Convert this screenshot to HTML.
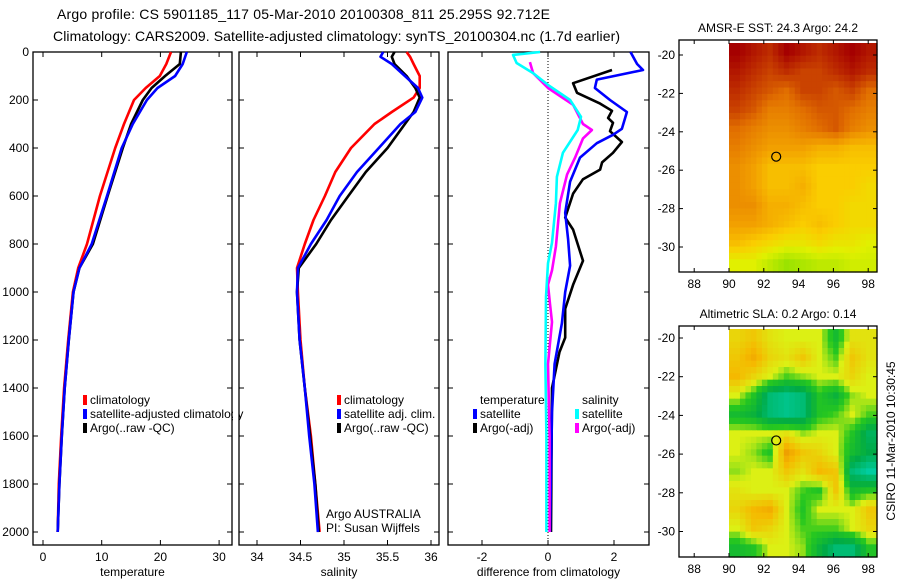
<!DOCTYPE html>
<html><head><meta charset="utf-8"><style>
body{margin:0;background:#fff}
svg{display:block;font-family:"Liberation Sans",sans-serif}
</style></head><body>
<svg id="c" width="900" height="580" viewBox="0 0 900 580"></svg>
<script>
// ---------- data ----------
const tDepth=[0,50,100,150,200,300,400,600,800,900,1000,1200,1400,1600,1800,2000];
const tClim=[21.8,21,19.9,17.5,15.5,13.8,12.3,9.7,7.5,6,5.1,4.3,3.6,3.1,2.7,2.5];
const tSat=[24.5,23.8,22.5,19.5,17.7,15.3,13.4,10.9,8.3,6.2,5.2,4.4,3.7,3.2,2.8,2.5];
const tArgo=[23.5,23.3,20.8,18.5,17,15,13.6,11,8.5,6.2,5.2,4.4,3.7,3.2,2.8,2.5];
const sDepth=[0,20,50,100,150,190,250,300,400,500,600,700,800,900,1000,1200,1400,1600,1800,2000];
const sClim=[35.72,35.76,35.8,35.87,35.87,35.8,35.55,35.35,35.08,34.9,34.78,34.65,34.55,34.46,34.47,34.5,34.55,34.62,34.67,34.72];
const sSat=[35.45,35.42,35.55,35.7,35.85,35.9,35.82,35.65,35.4,35.15,34.95,34.8,34.62,34.47,34.46,34.49,34.55,34.6,34.66,34.7];
const sArgo=[35.58,35.55,35.58,35.72,35.82,35.87,35.8,35.7,35.5,35.25,35.05,34.85,34.68,34.48,34.46,34.49,34.55,34.61,34.67,34.71];
const dSatSD=[0,12,46,88,137,200,270,325,420,520,630,795,880,1020,1300,1600,2000];
const dSatS=[-0.24,-1.06,-0.95,-0.45,0,0.67,1.0,0.9,0.45,0.27,0.24,0.12,0,-0.06,-0.08,-0.05,-0.05];
const dArgoSD=[42,88,150,220,300,325,360,440,510,630,810,910,970,1050,1125,1300,1600,2000];
const dArgoS=[-0.55,-0.45,0,0.76,1.06,1.33,1.06,0.82,0.58,0.36,0.24,0.12,0,0.06,0.12,0,0.05,0.05];
const dSatTD=[0,50,75,115,150,200,250,320,345,380,440,540,670,780,890,1000,1130,1300,1500,2000];
const dSatT=[2.5,2.7,2.88,1.48,1.42,1.88,2.39,2.24,1.97,1.48,0.97,0.67,0.52,0.61,0.67,0.52,0.42,0.2,0.12,0.06];
const dArgoTD=[75,130,170,215,245,275,295,330,375,420,460,490,530,590,690,740,870,970,1070,1190,1250,1400,2000];
const dArgoT=[1.94,0.76,0.88,1.58,1.94,1.82,1.97,1.88,2.24,1.97,1.64,1.58,1.06,0.76,0.52,0.76,1.06,0.76,0.52,0.52,0.35,0.12,0.09];
const sstGrid=[
[1,0.95,0.9,1,0.95,0.9,0.95,1,0.95],
[0.95,0.9,0.85,0.9,0.85,0.85,0.9,0.95,0.9],
[0.9,0.85,0.8,0.75,0.85,0.85,0.8,0.85,0.75],
[0.85,0.8,0.7,0.7,0.75,0.8,0.8,0.75,0.7],
[0.75,0.7,0.65,0.65,0.7,0.75,0.8,0.7,0.65],
[0.7,0.65,0.6,0.6,0.6,0.55,0.55,0.5,0.5],
[0.65,0.6,0.5,0.5,0.5,0.45,0.45,0.45,0.45],
[0.65,0.6,0.5,0.5,0.55,0.45,0.45,0.45,0.4],
[0.65,0.65,0.55,0.55,0.5,0.45,0.45,0.4,0.4],
[0.6,0.6,0.55,0.5,0.45,0.5,0.45,0.4,0.4],
[0.5,0.45,0.4,0.35,0.35,0.4,0.35,0.35,0.3],
[0.3,0.3,0.2,0.1,0.15,0.2,0.2,0.25,0.25]];
const slaGrid=[
[0.2,0.3,0.1,0,0,0,-0.4,0.1,0.1],
[0.3,0.5,0.2,0.1,0.3,0,-0.2,0.3,0.1],
[0.4,0.2,0,-0.2,-0.1,0,0,0.2,0],
[0,-0.3,-0.8,-0.9,-0.8,-0.3,-0.5,-0.1,0],
[-0.4,-0.5,-0.8,-0.9,-0.8,-0.3,-0.2,0,-0.2],
[0,0,0,0.1,-0.1,0,0,-0.3,-0.7],
[0,-0.1,-0.3,0.6,0.3,0.2,0,-0.4,-0.6],
[-0.1,0,0,0.3,0.1,0.4,0.3,-0.8,-1],
[0.1,0,0,0,-0.2,-0.3,0.3,-0.4,-0.3],
[0.2,0.4,0.5,0,-0.3,0,0,0,0.3],
[0,0.3,0.2,0,-0.2,-0.2,-0.2,0,0.2],
[-0.4,-0.3,0,0,-0.1,-0.5,-0.8,-0.8,-0.3]];
const depthTicks=[0,200,400,600,800,1000,1200,1400,1600,1800,2000];
const tTicks=[0,10,20,30];
const sTicks=[34,34.5,35,35.5,36];
const dTicks=[-2,0,2];
const lonTicks=[88,90,92,94,96,98];
const latTicks=[-20,-22,-24,-26,-28,-30];

// ---------- helpers ----------
const NS="http://www.w3.org/2000/svg";
const svg=document.getElementById('c');
function mk(tag,at,parent){const e=document.createElementNS(NS,tag);for(const k in at)e.setAttribute(k,at[k]);(parent||svg).appendChild(e);return e;}
function txt(s,x,y,at){const e=mk('text',Object.assign({x:x,y:y,'font-size':12,fill:'#000'},at||{}));e.textContent=s;return e;}
const yD=d=>52+d*0.24;
const xT=v=>43+v*5.87;
const xS=v=>257+(v-34)*87;
const xDf=v=>548+v*33;

function frame(x0,x1,y0,y1,name){const r=mk('rect',{x:x0,y:y0,width:x1-x0,height:y1-y0,fill:'none',stroke:'#000','stroke-width':1.3});}
function line(xs,ys,color,name,w){const p=xs.map((x,i)=>x.toFixed(1)+','+ys[i].toFixed(1)).join(' ');const e=mk('polyline',{points:p,fill:'none',stroke:color,'stroke-width':w||2.6,'stroke-linejoin':'round'});}

function profilePanel(x0,x1,sc,ticks,label,labelDepth,name){
  frame(x0,x1,52,545,name+'-frame');
  depthTicks.forEach(d=>{mk('line',{x1:x0,x2:x0+5,y1:yD(d),y2:yD(d),stroke:'#000'});mk('line',{x1:x1,x2:x1-5,y1:yD(d),y2:yD(d),stroke:'#000'});
    if(labelDepth){const t=txt(String(d),x0-4,yD(d)+4,{'text-anchor':'end'});}});
  ticks.forEach(v=>{const x=sc(v);mk('line',{x1:x,x2:x,y1:545,y2:540,stroke:'#000'});mk('line',{x1:x,x2:x,y1:52,y2:57,stroke:'#000'});
    const t=txt(String(v),x,561,{'text-anchor':'middle'});});
  const l=txt(label,(x0+x1)/2,576,{'text-anchor':'middle'});
}

// titles
let t1=txt('Argo profile: CS 5901185_117 05-Mar-2010 20100308_811 25.295S 92.712E',57,19,{'font-size':14,textLength:493});

let t2=txt('Climatology: CARS2009. Satellite-adjusted climatology: synTS_20100304.nc (1.7d earlier)',53,41,{'font-size':14,textLength:567});


// panel 1
profilePanel(33,232,xT,tTicks,'temperature',true,'temperature-panel');
line(tClim.map(xT),tDepth.map(yD),'#f00','temp-climatology-line');
line(tArgo.map(xT),tDepth.map(yD),'#000','temp-argo-line');
line(tSat.map(xT),tDepth.map(yD),'#00f','temp-satellite-line');
function legend(x,y,items,group){items.forEach((it,i)=>{const r=mk('rect',{x:x,y:y+i*14-9,width:4,height:10,fill:it[1]});
  const t=txt(it[0],x+7,y+i*14,{});});}
legend(83,404,[['climatology','#f00'],['satellite-adjusted climatology','#00f'],['Argo(..raw -QC)','#000']],'temp-legend');
mk('rect',{x:233,y:380,width:6,height:60,fill:'#fff'});

// panel 2
profilePanel(239,439,xS,sTicks,'salinity',false,'salinity-panel');
line(sClim.map(xS),sDepth.map(yD),'#f00','sal-climatology-line');
line(sArgo.map(xS),sDepth.map(yD),'#000','sal-argo-line');
line(sSat.map(xS),sDepth.map(yD),'#00f','sal-satellite-line');
legend(337,404,[['climatology','#f00'],['satellite adj. clim.','#00f'],['Argo(..raw -QC)','#000']],'sal-legend');
let a1=txt('Argo AUSTRALIA',326,518,{});
let a2=txt('PI: Susan Wijffels',326,532,{});

// panel 3
profilePanel(448,649,xDf,dTicks,'difference from climatology',false,'difference-panel');
mk('line',{x1:xDf(0),x2:xDf(0),y1:52,y2:545,stroke:'#000','stroke-dasharray':'1,2'});
line(dArgoT.map(xDf),dArgoTD.map(yD),'#000','diff-temp-argo-line');
line(dSatT.map(xDf),dSatTD.map(yD),'#00f','diff-temp-satellite-line');
line(dArgoS.map(xDf),dArgoSD.map(yD),'#f0f','diff-sal-argo-line');
line(dSatS.map(xDf),dSatSD.map(yD),'#0ff','diff-sal-satellite-line');
let lt=txt('temperature',480,404,{});
let ls=txt('salinity',582,404,{});
legend(473,418,[['satellite','#00f'],['Argo(-adj)','#000']],'diff-temp-legend');
legend(575,418,[['satellite','#0ff'],['Argo(-adj)','#f0f']],'diff-sal-legend');

// ---------- maps ----------
function lerpC(stops,v){v=Math.max(0,Math.min(1,v));for(let i=1;i<stops.length;i++){if(v<=stops[i][0]){const a=stops[i-1],b=stops[i],f=(v-a[0])/(b[0]-a[0]||1);return 'rgb('+[1,2,3].map(k=>Math.round(a[k]+(b[k]-a[k])*f)).join(',')+')';}}const l=stops[stops.length-1];return 'rgb('+l[1]+','+l[2]+','+l[3]+')';}
const sstStops=[[0,120,220,0],[0.3,225,240,0],[0.45,250,205,0],[0.6,242,160,0],[0.75,225,110,0],[0.9,190,45,0],[1,165,0,0]];
const slaStops=[[0,0,205,160],[0.2,0,170,70],[0.38,40,200,30],[0.5,220,240,20],[0.7,245,185,0],[1,225,110,0]];
const xLon=v=>729+(v-90)*17.4;
function sample(grid,fr,fc){const R=grid.length,C=grid[0].length;
  const r=Math.max(0,Math.min(R-1,fr)),c=Math.max(0,Math.min(C-1,fc));
  const r0=Math.floor(r),c0=Math.floor(c),r1=Math.min(R-1,r0+1),c1=Math.min(C-1,c0+1),a=r-r0,b=c-c0;
  return grid[r0][c0]*(1-a)*(1-b)+grid[r0][c1]*(1-a)*b+grid[r1][c0]*a*(1-b)+grid[r1][c1]*a*b;}
function mapPanel(y0,y1,yLat,grid,stops,norm,title,name){
  const rows=grid.length,cols=grid[0].length,sub=3;
  const gx0=xLon(90),gxe=877,gy0=y0+3,gye=y1;
  const cw=(gxe-gx0)/(cols*sub), ch=(gye-gy0)/(rows*sub);
  for(let r=0;r<rows*sub;r++)for(let c=0;c<cols*sub;c++){
    const v=sample(grid,(r+0.5)/sub-0.5,(c+0.5)/sub-0.5);
    const e=mk('rect',{x:(gx0+c*cw).toFixed(2),y:(gy0+r*ch).toFixed(2),width:(cw+0.6).toFixed(2),height:(ch+0.6).toFixed(2),fill:lerpC(stops,norm(v))});
    }
  frame(679,877,y0,y1,name+'-frame');
  lonTicks.forEach(v=>{const x=xLon(v);mk('line',{x1:x,x2:x,y1:y1,y2:y1-4,stroke:'#000'});mk('line',{x1:x,x2:x,y1:y0,y2:y0+4,stroke:'#000'});
    const t=txt(String(v),x,y1+16,{'text-anchor':'middle'});});
  latTicks.forEach(v=>{const y=yLat(v);mk('line',{x1:679,x2:683,y1:y,y2:y,stroke:'#000'});mk('line',{x1:877,x2:873,y1:y,y2:y,stroke:'#000'});
    const t=txt(String(v),675,y+4,{'text-anchor':'end'});});
  const tt=txt(title,778,y0-8,{'text-anchor':'middle'});
  const m=mk('circle',{cx:xLon(92.712),cy:yLat(-25.295),r:4.5,fill:'none',stroke:'#000','stroke-width':1.2});
  
}
mapPanel(40,272,lat=>55+(-20-lat)*19.2,sstGrid,sstStops,v=>v,'AMSR-E SST: 24.3 Argo: 24.2','sst-map');
mapPanel(326,557,lat=>338+(-20-lat)*19.35,slaGrid,slaStops,v=>(v+1)/2,'Altimetric SLA: 0.2 Argo: 0.14','sla-map');

let st=txt('CSIRO 11-Mar-2010 10:30:45',0,0,{'text-anchor':'middle',transform:'translate(895,441) rotate(-90)'});

</script>
</body></html>
